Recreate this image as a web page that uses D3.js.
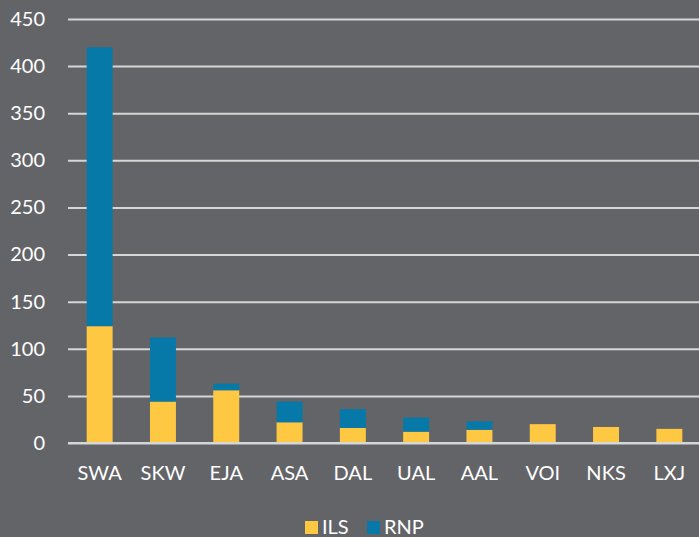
<!DOCTYPE html>
<html><head><meta charset="utf-8">
<script src="https://cdn.jsdelivr.net/npm/d3@7"></script>
<style>
html,body{margin:0;padding:0;background:#636468;}
svg{display:block;}
text{font-family:Lato,"Open Sans",sans-serif;fill:#ffffff;}
</style></head>
<body>
<script>
const categories = ["SWA","SKW","EJA","ASA","DAL","UAL","AAL","VOI","NKS","LXJ"];
const ilsValues = [124,44,56,22,16,12,14,20,17,15];
const rnpValues = [296,68,7,22,20,15,9,0,0,0];
const yTicks = [0,50,100,150,200,250,300,350,400,450];
const seriesNames = ["ILS","RNP"];
const colors = ["#FFC843","#0779A8"];

const W=699,H=537;
const svg=d3.select("body").append("svg").attr("width",W).attr("height",H);
svg.append("rect").attr("width",W).attr("height",H).attr("fill","#636468");

const x=d3.scaleBand().domain(categories).range([68,701]).paddingInner(0.59).paddingOuter(0.295);
const y=d3.scaleLinear().domain([0,450]).range([443,19]);

const yAxis=d3.axisLeft(y).tickValues(yTicks).tickSize(-(W-68)).tickPadding(23);
const gy=svg.append("g").attr("transform","translate(68,0)").call(yAxis);
gy.select(".domain").remove();
gy.selectAll(".tick line").attr("stroke","#d6d6d6").attr("stroke-width",2);
gy.selectAll(".tick text").attr("font-size","20px").attr("fill","#fff");

const table=categories.map((c,i)=>({cat:c,ILS:ilsValues[i],RNP:rnpValues[i]}));
const stack=d3.stack().keys(seriesNames)(table);
svg.append("g").selectAll("g").data(stack).join("g").attr("fill",(d,i)=>colors[i])
  .selectAll("rect").data(d=>d.filter(p=>p[1]-p[0]>0)).join("rect")
  .attr("x",d=>x(d.data.cat)).attr("width",x.bandwidth())
  .attr("y",d=>y(d[1])).attr("height",d=>y(d[0])-y(d[1]));

// redraw baseline on top
svg.append("line").attr("x1",68).attr("x2",W).attr("y1",y(0)).attr("y2",y(0)).attr("stroke","#d6d6d6").attr("stroke-width",2);

const xAxis=d3.axisBottom(x).tickSize(0).tickPadding(23);
const gx=svg.append("g").attr("transform","translate(0,443)").call(xAxis);
gx.select(".domain").remove();
gx.selectAll(".tick text").attr("font-size","20px").attr("fill","#fff");

const leg=svg.append("g");
const legX=[305,367];
seriesNames.forEach((s,i)=>{
  leg.append("rect").attr("x",legX[i]).attr("y",521).attr("width",13).attr("height",13).attr("fill",colors[i]);
  leg.append("text").attr("x",legX[i]+17).attr("y",534).attr("font-size","20px").text(s);
});
</script>
</body></html>
